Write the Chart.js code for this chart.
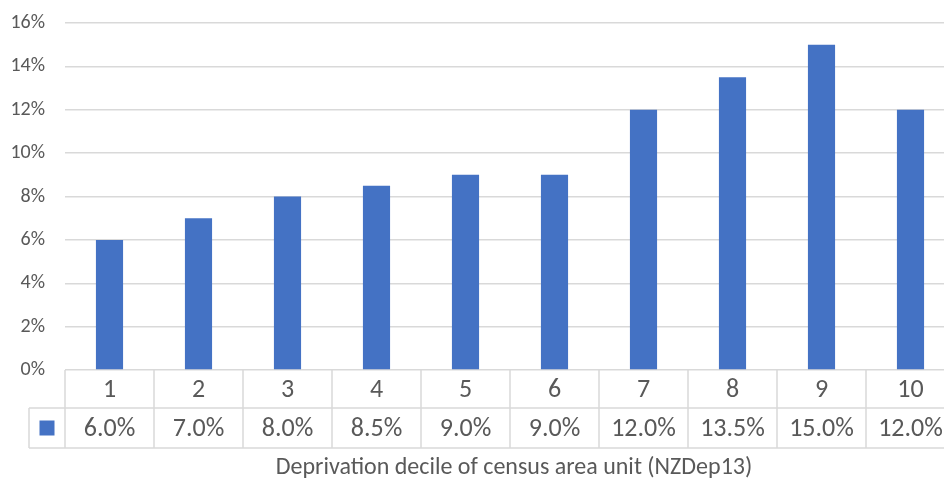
<!DOCTYPE html>
<html>
<head>
<meta charset="utf-8">
<script src="https://cdn.jsdelivr.net/npm/chart.js@4"></script>
<style>
  html, body { margin: 0; padding: 0; background: #ffffff; overflow: hidden; }
  #wrap { width: 944px; height: 478px; overflow: hidden; }
</style>
</head>
<body>
<div id="wrap"><canvas id="c" width="956" height="478"></canvas></div>
<script>
// Share of population by deprivation decile (percent)
const deciles = ['1', '2', '3', '4', '5', '6', '7', '8', '9', '10'];
const shares = [6.0, 7.0, 8.0, 8.5, 9.0, 9.0, 12.0, 13.5, 15.0, 12.0];
const yTicks = [0, 2, 4, 6, 8, 10, 12, 14, 16];
const axisTitle = 'Deprivation decile of census area unit (NZDep13)';

const FONT = 'Carlito, Lato, "Liberation Sans", sans-serif';
const TEXT = '#595959';
const GRID = '#D9D9D9';
const BAR = '#4472C4';

// Data table under the plot: category row, value row with legend key, and the axis title
const dataTable = {
  id: 'dataTable',
  afterDraw(chart) {
    const ctx = chart.ctx;
    const x = chart.scales.x;
    const y = chart.scales.y;
    const top = y.getPixelForValue(0);
    const row1 = top + 38;
    const row2 = row1 + 40;
    const keyLeft = 29;
    const colW = (x.right - x.left) / deciles.length;

    ctx.save();
    ctx.strokeStyle = GRID;
    ctx.lineWidth = 1.5;
    ctx.beginPath();
    // horizontal rules
    ctx.moveTo(keyLeft, row1); ctx.lineTo(x.right, row1);
    ctx.moveTo(keyLeft, row2); ctx.lineTo(x.right, row2);
    // legend cell left edge
    ctx.moveTo(keyLeft, row1); ctx.lineTo(keyLeft, row2);
    // column separators
    deciles.forEach((d, i) => {
      const cx = x.getPixelForValue(i);
      const l = cx - colW / 2;
      ctx.moveTo(l, top); ctx.lineTo(l, row2);
      if (i === deciles.length - 1) {
        ctx.moveTo(cx + colW / 2, top); ctx.lineTo(cx + colW / 2, row2);
      }
    });
    ctx.stroke();

    // legend key
    ctx.fillStyle = BAR;
    const keyCx = (keyLeft + x.left) / 2;
    const keyCy = (row1 + row2) / 2;
    ctx.fillRect(keyCx - 7.5, keyCy - 7.5, 15, 15);

    // texts
    ctx.fillStyle = TEXT;
    ctx.textAlign = 'center';
    ctx.textBaseline = 'middle';
    ctx.font = '26px ' + FONT;
    deciles.forEach((d, i) => {
      const cx = x.getPixelForValue(i);
      ctx.fillText(d, cx, (top + row1) / 2 + 1);
      ctx.fillText(shares[i].toFixed(1) + '%', cx, keyCy + 1);
    });

    ctx.font = '24px ' + FONT;
    ctx.fillText(axisTitle, (x.left + x.right) / 2 + 4, row2 + 20);
    ctx.restore();
  }
};

new Chart(document.getElementById('c'), {
  type: 'bar',
  data: {
    labels: deciles,
    datasets: [{
      data: shares,
      backgroundColor: BAR,
      borderWidth: 0,
      categoryPercentage: 1,
      barPercentage: 0.305
    }]
  },
  options: {
    responsive: false,
    animation: false,
    events: [],
    layout: { padding: { top: 23, right: 1, bottom: 108, left: 0 } },
    plugins: { legend: { display: false }, tooltip: { enabled: false }, title: { display: false } },
    scales: {
      x: { display: false },
      y: {
        min: 0, max: 16,
        afterFit(s) { s.width = 65; s.paddingTop = 0; s.paddingBottom = 0; },
        afterBuildTicks(s) { s.ticks = yTicks.map(v => ({ value: v })); },
        border: { display: false },
        grid: { color: GRID, lineWidth: 1.5, drawTicks: false },
        ticks: {
          padding: 20,
          color: TEXT,
          font: { family: FONT, size: 20 },
          callback: v => v + '%'
        }
      }
    }
  },
  plugins: [dataTable]
});
</script>
</body>
</html>
